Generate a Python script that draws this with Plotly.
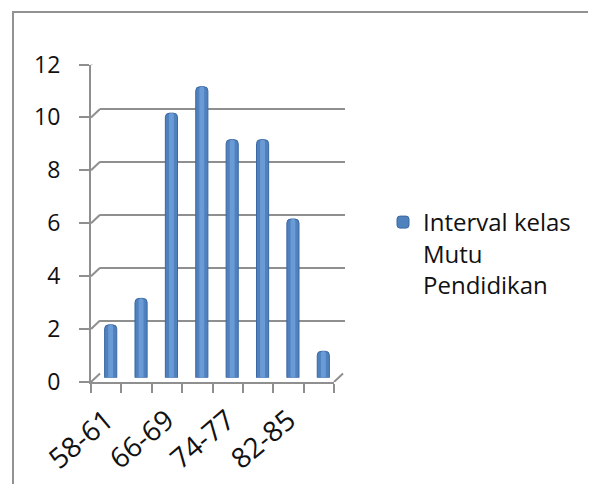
import plotly.graph_objects as go

# ---- data ----
categories = ["58-61", "62-65", "66-69", "70-73", "74-77", "78-81", "82-85", "86-89"]
frequencies = [2, 3, 10, 11, 9, 9, 6, 1]
y_ticks = [0, 2, 4, 6, 8, 10, 12]
series_name = "Interval kelas<br>Mutu<br>Pendidikan"

# ---- geometry (page pixels; the page body adds an 8px offset) ----
OX, OY = 8, 8
W, H = 596 - 2 * OX, 492 - 2 * OY
FX0, FX1 = 91, 334        # front x-axis extent
FY0, FY1 = 382, 64.5      # front y-axis: value 0 and value 12
DX, DY = 9, 8.5           # depth offset of back wall
GRAY = "#8f8f8f"
FONT = "Open Sans"


def fx(px):
    return (px - OX) / W


def fy(py):
    return 1 - (py - OY) / H


n = len(categories)
ymax = y_ticks[-1]

fig = go.Figure()

# cylinder-like bars: body + highlight
fig.add_trace(go.Bar(
    x=categories, y=frequencies, name=series_name,
    xaxis="x3", yaxis="y3", width=0.4,
    marker=dict(color="#4F81BD", line=dict(color="#3A68A3", width=1), cornerradius=4),
    hovertemplate="%{x}: %{y}<extra></extra>",
))
fig.add_trace(go.Bar(
    x=categories, y=frequencies, showlegend=False, hoverinfo="skip",
    xaxis="x3", yaxis="y3", width=0.16,
    marker=dict(color="#6B9BD6", line=dict(width=0), cornerradius=2),
))
# empty traces so the front axes and back-wall subplot are created
fig.add_trace(go.Scatter(x=[], y=[], xaxis="x2", yaxis="y2", showlegend=False, hoverinfo="skip"))
fig.add_trace(go.Scatter(x=[], y=[], xaxis="x", yaxis="y", showlegend=False, hoverinfo="skip"))

axis_hidden = dict(showticklabels=False, showgrid=False, zeroline=False,
                   showline=False, ticks="", fixedrange=True)

fig.update_layout(
    width=W, height=H,
    margin=dict(l=0, r=0, t=0, b=0, autoexpand=False),
    paper_bgcolor="white", plot_bgcolor="rgba(0,0,0,0)",
    barmode="overlay",
    font=dict(family=FONT, color="#111111"),
    # front axes (labels, ticks, axis lines)
    xaxis=dict(
        domain=[fx(FX0), fx(FX1)], anchor="y", range=[-0.5, n - 0.5],
        tickmode="array", tickvals=list(range(0, n, 2)), ticktext=categories[::2],
        ticks="", showgrid=False, zeroline=False,
        showline=True, linecolor=GRAY, linewidth=2,
        tickangle=-40, tickfont=dict(size=28, family=FONT, color="#111111"),
        ticklabelstandoff=9, ticklabelshift=0,
        minor=dict(tickmode="array", tickvals=[i - 0.5 for i in range(n + 1)],
                   ticks="outside", ticklen=9, tickcolor=GRAY, tickwidth=2, showgrid=False),
        automargin=False, fixedrange=True,
    ),
    yaxis=dict(
        domain=[fy(FY0), fy(FY1)], anchor="x", range=[0, ymax],
        tickmode="array", tickvals=y_ticks,
        ticks="outside", ticklen=10, tickcolor=GRAY, tickwidth=2,
        showline=True, linecolor=GRAY, linewidth=2,
        showgrid=False, zeroline=False,
        tickfont=dict(size=23, family=FONT, color="#111111"),
        ticklabelstandoff=14,
        automargin=False, fixedrange=True,
    ),
    # back wall (gridlines)
    xaxis2=dict(domain=[fx(FX0 + DX), fx(FX1 + DX + 2)], anchor="y2", range=[0, 1], **axis_hidden),
    yaxis2=dict(domain=[fy(FY0 - DY), fy(FY1 - DY)], anchor="x2", range=[0, ymax],
                tickmode="array", tickvals=y_ticks, showgrid=True, gridcolor=GRAY, gridwidth=2,
                showticklabels=False, zeroline=False, showline=False, ticks="", fixedrange=True),
    # mid depth (bars)
    xaxis3=dict(domain=[fx(FX0 + DX / 2), fx(FX1 + DX / 2)], anchor="y3", type="category",
                range=[-0.5, n - 0.5], **axis_hidden),
    yaxis3=dict(domain=[fy(FY0 - DY / 2), fy(FY1 - DY / 2)], anchor="x3", range=[0, ymax],
                **axis_hidden),
    legend=dict(
        x=fx(383), y=fy(200), xanchor="left", yanchor="top",
        font=dict(size=24, family=FONT, color="#111111"),
        bgcolor="rgba(0,0,0,0)", valign="top", itemwidth=30,
    ),
    showlegend=True,
)

# 3D connectors from front axis ticks to back wall gridlines
unit_px = (FY0 - FY1) / ymax
dx_dom = DX / (FX1 - FX0)
dy_val = DY / unit_px
shapes = []
for v in y_ticks:
    shapes.append(dict(type="line", xref="x domain", yref="y",
                       x0=0, y0=v, x1=dx_dom, y1=v + dy_val,
                       line=dict(color=GRAY, width=2)))
shapes.append(dict(type="line", xref="x domain", yref="y",
                   x0=1, y0=0, x1=1 + dx_dom, y1=dy_val,
                   line=dict(color=GRAY, width=2)))
# outer chart frame
shapes.append(dict(type="rect", xref="paper", yref="paper",
                   x0=fx(13), x1=fx(610), y0=fy(510), y1=fy(12),
                   line=dict(color="#929292", width=2), fillcolor="rgba(0,0,0,0)", layer="below"))
fig.update_layout(shapes=shapes)

fig.write_html("out.html")
